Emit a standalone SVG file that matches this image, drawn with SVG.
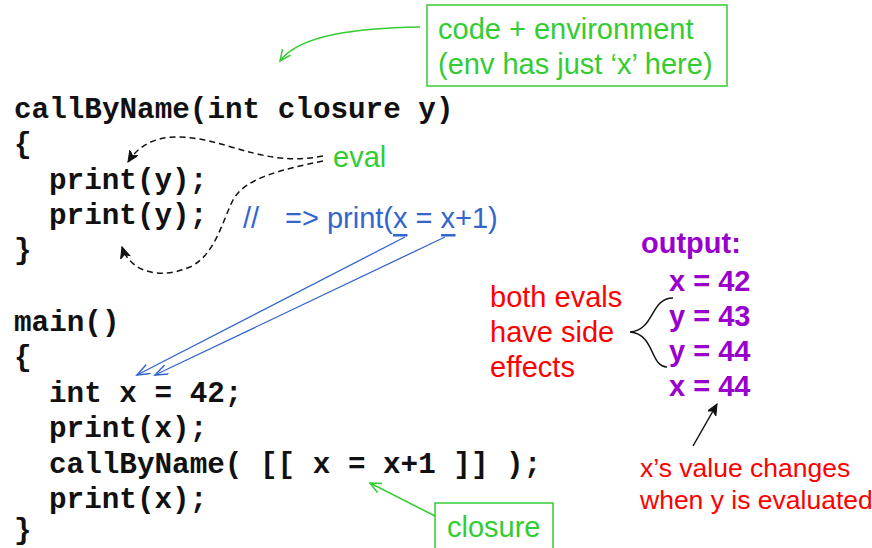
<svg xmlns="http://www.w3.org/2000/svg" width="872" height="548" viewBox="0 0 872 548">
<style>
.code{font-family:"Liberation Mono","Courier New",monospace;font-weight:bold;font-size:29.3px;fill:#111}
.g{font-family:"Liberation Sans",Arial,sans-serif;font-size:29px;fill:#33cc33}
.b{font-family:"Liberation Sans",Arial,sans-serif;font-size:29px;fill:#3366cc}
.r{font-family:"Liberation Sans",Arial,sans-serif;font-size:29px;fill:#ff0000}
.rs{font-family:"Liberation Sans",Arial,sans-serif;font-size:26.5px;fill:#ff0000}
.p{font-family:"Liberation Sans",Arial,sans-serif;font-size:29px;font-weight:bold;fill:#9900cc}
.box{fill:none;stroke:#33cc33;stroke-width:1.5}
</style>
<defs>
<marker id="ag" markerUnits="userSpaceOnUse" markerWidth="16" markerHeight="16" refX="12" refY="6" orient="auto"><path d="M1,1 L12,6 L1,11" fill="none" stroke="#33cc33" stroke-width="1.5"/></marker>
<marker id="ab" markerUnits="userSpaceOnUse" markerWidth="16" markerHeight="16" refX="13" refY="5" orient="auto"><path d="M0,0 L13,5 L0,10" fill="none" stroke="#3366cc" stroke-width="1.5"/></marker>
<marker id="ak" markerUnits="userSpaceOnUse" markerWidth="16" markerHeight="16" refX="11" refY="5" orient="auto"><path d="M0,0 L11,5 L0,10 L3,5 Z" fill="#111" stroke="#111" stroke-width="1"/></marker>
</defs>
<g id="code">
<text class="code" x="14" y="118">callByName(int closure y)</text>
<text class="code" x="14" y="153">{</text>
<text class="code" x="49" y="189">print(y);</text>
<text class="code" x="49" y="224">print(y);</text>
<text class="code" x="14" y="259">}</text>
<text class="code" x="14" y="331">main()</text>
<text class="code" x="14" y="366">{</text>
<text class="code" x="49" y="402">int x = 42;</text>
<text class="code" x="49" y="437">print(x);</text>
<text class="code" x="49" y="473">callByName( [[ x = x+1 ]] );</text>
<text class="code" x="49" y="508">print(x);</text>
<text class="code" x="14" y="539">}</text>
</g>
<g id="env-note">
<rect class="box" x="427" y="5" width="300" height="81"/>
<text class="g" x="438" y="39">code + environment</text>
<text class="g" x="438" y="74">(env has just ‘x’ here)</text>
</g>
<g id="eval-label"><text class="g" x="333" y="167">eval</text></g>
<g id="comment">
<text class="b" y="228"><tspan x="243">//</tspan><tspan x="285">=&gt; print(x = x+1)</tspan></text>
<rect x="393" y="234" width="14.5" height="2.5" fill="#3366cc"/>
<rect x="441" y="234" width="14.5" height="2.5" fill="#3366cc"/>
</g>
<g id="side-effects"><text class="r" x="490" y="307">both evals</text><text class="r" x="490" y="342">have side</text><text class="r" x="490" y="377">effects</text></g>
<g id="output">
<text class="p" x="641" y="253">output:</text>
<text class="p" x="669" y="291">x = 42</text>
<text class="p" x="669" y="326">y = 43</text>
<text class="p" x="669" y="361">y = 44</text>
<text class="p" x="669" y="396">x = 44</text>
</g>
<g id="x-note"><text class="rs" x="640" y="477">x’s value changes</text><text class="rs" x="640" y="509">when y is evaluated</text></g>
<g id="closure-note"><rect class="box" x="435" y="503" width="118" height="60"/><text class="g" x="447" y="537">closure</text></g>
<g id="connectors" fill="none">
<path d="M420,27 C360,28 300,34 280,61" stroke="#33cc33" stroke-width="1.5" marker-end="url(#ag)"/>
<path d="M323,156 C288,163 262,156 228,146 C190,135 150,128 128,162" stroke="#111" stroke-width="1.5" stroke-dasharray="6,4" marker-end="url(#ak)"/>
<path d="M323,161 C280,170 245,178 233,200 C222,222 215,255 190,267 C160,280 130,272 122,247" stroke="#111" stroke-width="1.5" stroke-dasharray="6,4" marker-end="url(#ak)"/>
<line x1="405" y1="237" x2="137" y2="375" stroke="#3366cc" stroke-width="1.3" marker-end="url(#ab)"/>
<line x1="445" y1="237" x2="155" y2="375" stroke="#3366cc" stroke-width="1.3" marker-end="url(#ab)"/>
<path d="M673,298 C650,298 655,330 630,332 C655,334 650,367 667,367" stroke="#111" stroke-width="1.5"/>
<line x1="693" y1="446" x2="717" y2="404" stroke="#111" stroke-width="1.5" marker-end="url(#ak)"/>
<line x1="435" y1="516" x2="370" y2="483" stroke="#33cc33" stroke-width="1.5" marker-end="url(#ag)"/>
</g>
</svg>
